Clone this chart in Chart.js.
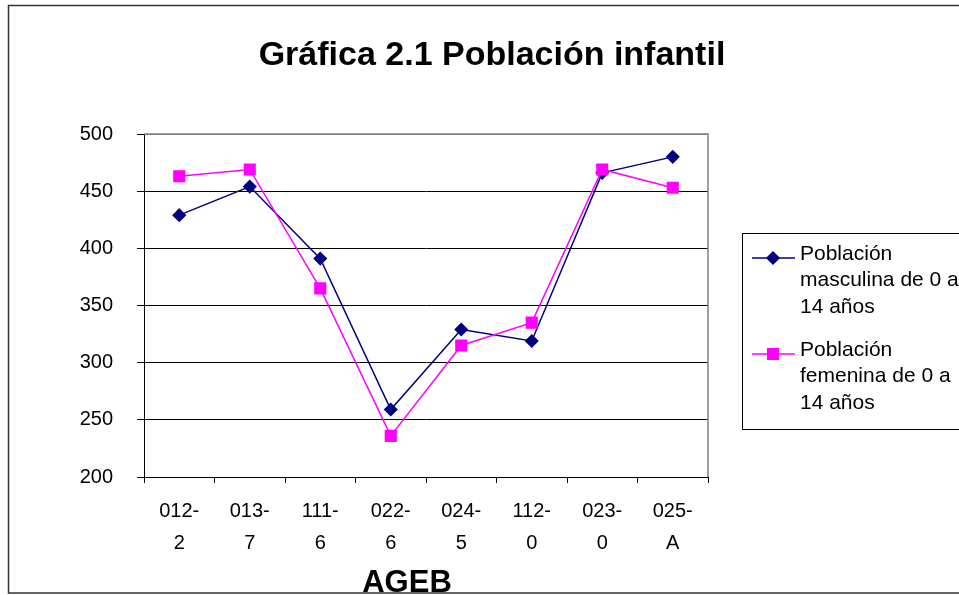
<!DOCTYPE html>
<html>
<head>
<meta charset="utf-8">
<script src="https://cdn.jsdelivr.net/npm/chart.js@4/dist/chart.umd.min.js"></script>
<style>
  html, body { margin: 0; padding: 0; background: #fff; }
  canvas { display: block; }
</style>
</head>
<body>
<canvas id="poblacionChart" width="959" height="595"></canvas>
<script>
// AGEB categories, two lines each
const ageb = [['012-', '2'], ['013-', '7'], ['111-', '6'], ['022-', '6'],
              ['024-', '5'], ['112-', '0'], ['023-', '0'], ['025-', 'A']];
const masculina = [429, 454, 391, 259, 329, 319, 466, 480];
const femenina = [463, 469, 365, 236, 315, 335, 469, 453];
const yTicks = { min: 200, max: 500, step: 50 };

const legendMasculina = ['Población', 'masculina de 0 a', '14 años'];
const legendFemenina = ['Población', 'femenina de 0 a', '14 años'];

const FONT = "'Liberation Sans', Arial, sans-serif";

// frame, title, axis title and the boxed legend on the right
const decorPlugin = {
    id: 'decor',
    beforeDatasetsDraw(chart) {
        const { ctx, chartArea: a } = chart;
        ctx.save();
        ctx.strokeStyle = '#808080';
        ctx.lineWidth = 1.5;
        ctx.beginPath();
        ctx.moveTo(a.left, a.top);
        ctx.lineTo(a.right, a.top);
        ctx.lineTo(a.right, a.bottom);
        ctx.stroke();
        ctx.restore();
    },
    afterDraw(chart) {
        const ctx = chart.ctx;
        ctx.save();
        // outer frame
        ctx.strokeStyle = '#333';
        ctx.lineWidth = 1.5;
        ctx.strokeRect(8.5, 5.5, 1000, 587.5);

        ctx.fillStyle = '#000';
        ctx.textAlign = 'center';
        ctx.textBaseline = 'alphabetic';
        ctx.font = 'bold 34px ' + FONT;
        ctx.fillText('Gráfica 2.1 Población infantil', 492, 65);
        ctx.font = 'bold 31px ' + FONT;
        ctx.fillText('AGEB', 407, 592);

        // legend
        ctx.strokeStyle = '#000';
        ctx.lineWidth = 1;
        ctx.strokeRect(742.5, 233.5, 300, 196);
        const entries = [
            { ds: chart.data.datasets[0], lines: legendMasculina, y: 258 },
            { ds: chart.data.datasets[1], lines: legendFemenina, y: 354 }
        ];
        ctx.font = '21px ' + FONT;
        ctx.textAlign = 'left';
        ctx.textBaseline = 'middle';
        entries.forEach(e => {
            ctx.strokeStyle = e.ds.borderColor;
            ctx.lineWidth = 1.5;
            ctx.beginPath();
            ctx.moveTo(752, e.y);
            ctx.lineTo(795, e.y);
            ctx.stroke();
            ctx.fillStyle = e.ds.pointBackgroundColor;
            Chart.helpers.drawPoint(ctx, {
                pointStyle: e.ds.pointStyle,
                radius: e.ds.pointRadius,
                rotation: 0,
                borderWidth: 1
            }, 773, e.y);
            ctx.fillStyle = '#000';
            e.lines.forEach((t, i) => ctx.fillText(t, 800, e.y - 4 + i * 26.5));
        });
        ctx.restore();
    }
};

new Chart(document.getElementById('poblacionChart').getContext('2d'), {
    type: 'line',
    data: {
        labels: ageb,
        datasets: [
            {
                label: legendMasculina.join(' '),
                data: masculina,
                borderColor: '#000080',
                backgroundColor: '#000080',
                pointBackgroundColor: '#000080',
                pointBorderColor: '#000080',
                pointStyle: 'rectRot',
                pointRadius: 6,
                borderWidth: 1.5,
                tension: 0,
                order: 1
            },
            {
                label: legendFemenina.join(' '),
                data: femenina,
                borderColor: '#FF00FF',
                backgroundColor: '#FF00FF',
                pointBackgroundColor: '#FF00FF',
                pointBorderColor: '#FF00FF',
                pointStyle: 'rect',
                pointRadius: 7.5,
                borderWidth: 1.5,
                tension: 0,
                order: 0
            }
        ]
    },
    options: {
        responsive: false,
        animation: false,
        layout: { padding: { left: 0, top: 134, right: 251, bottom: 0 } },
        plugins: {
            legend: { display: false },
            title: { display: false },
            tooltip: { enabled: false }
        },
        scales: {
            x: {
                offset: true,
                afterFit: s => { s.height = 118; },
                grid: {
                    offset: true,
                    drawOnChartArea: false,
                    drawTicks: true,
                    tickLength: 6,
                    color: '#000',
                    tickColor: '#000'
                },
                border: { color: '#000', width: 1 },
                ticks: {
                    color: '#000',
                    padding: 12,
                    maxRotation: 0,
                    autoSkip: false,
                    font: { family: FONT, size: 20, lineHeight: 1.6 }
                }
            },
            y: {
                min: yTicks.min,
                max: yTicks.max,
                afterFit: s => { s.width = 144; },
                grid: {
                    color: c => (c.tick && c.tick.value === yTicks.max ? '#808080' : '#000'),
                    tickColor: '#000',
                    tickLength: 7,
                    lineWidth: 1
                },
                border: { color: '#000', width: 1 },
                ticks: {
                    stepSize: yTicks.step,
                    color: '#000',
                    padding: 24,
                    font: { family: FONT, size: 20 }
                }
            }
        }
    },
    plugins: [decorPlugin]
});
</script>
</body>
</html>
